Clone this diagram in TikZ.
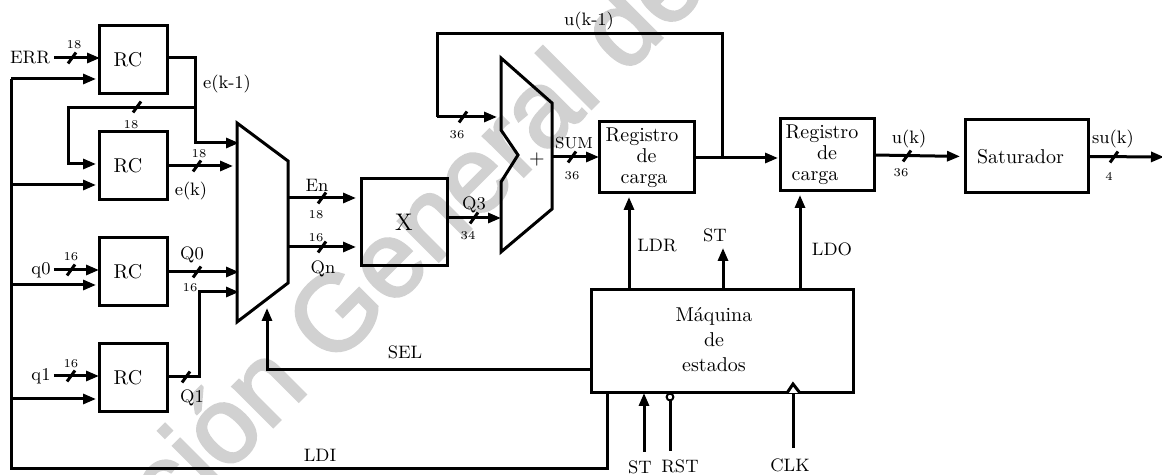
\documentclass[tikz,border=0pt]{standalone}
\usepackage{fontspec}
\newfontfamily\wmfont[FakeBold=2.5]{Liberation Sans}
\usepackage{tikz}
\usetikzlibrary{arrows.meta, positioning}

\begin{document}
\begin{tikzpicture}[
  x=0.5pt, y=-0.5pt,
  font=\normalsize,
  blk/.style={draw=black, line width=1.5pt, outer sep=0pt, inner sep=0pt, align=center},
  rcbox/.style={blk, minimum width=34pt, minimum height=34pt},
  regbox/.style={blk, minimum width=47.5pt, minimum height=35.5pt},
  wire/.style={draw=black, line width=1.5pt},
  sig/.style={wire, -{Triangle[length=6.5pt,width=5pt]}},
  gap/.style={shorten >=#1},
  lbl/.style={font=\small, inner sep=0pt},
  bw/.style={font=\fontsize{6}{7}\selectfont, inner sep=0pt},
  buscut/.pic={\draw[wire] (-4,5.5) -- (4,-5.5);}
]
\useasboundingbox (0,0) rectangle (1162,475);

% ---------------------------------------------- watermark
\node[rotate=45, anchor=base, text=black!18, inner sep=0pt, font=\wmfont\fontsize{54}{54}\selectfont] (wmark)
  at (440,260) {ción General de};

% ---------------------------------------------- the four input registers
\node[rcbox] (rca) at (133,60) {RC\hspace*{5pt}};
\node[rcbox, below=19pt of rca] (rcb) {RC\hspace*{5pt}};
\node[rcbox, below=19pt of rcb] (rcc) {RC\hspace*{5pt}};
\node[rcbox, below=19pt of rcc] (rcd) {RC\hspace*{5pt}};

\node[lbl] (lberr) at (30,58) {ERR};
\node[lbl] (lbqa) at (41,270) {q0};
\node[lbl] (lbqb) at (41,376) {q1};
\node[bw] (wa) at (74,45) {18};
\node[bw] (wb) at (71,257) {16};
\node[bw] (wc) at (71,364) {16};

\draw[sig, gap=1.5pt] ([xshift=2pt]lberr.east) -- ([xshift=2pt]lberr.east -| rca.west);
\draw[sig, gap=1.5pt] ([xshift=1.5pt]lbqa.east) -- ([xshift=1.5pt]lbqa.east -| rcc.west);
\draw[sig, gap=1.5pt] ([xshift=1.5pt]lbqb.east) -- ([xshift=1.5pt]lbqb.east -| rcd.west);
\pic at (72,58) {buscut};
\pic at (71,270) {buscut};
\pic at (71,376) {buscut};

% ---------------------------------------------- load line on the left
\coordinate (railtop) at (11,79);
\coordinate (railbot) at (11,469);
\coordinate (railb) at (11,185);
\coordinate (railc) at (11,285);
\coordinate (raild) at (11,399);
\coordinate (ldiout) at (607,393);

\draw[wire] (ldiout) |- (railbot) -- (railtop);
\draw[sig, gap=1.5pt] (railtop) -- (railtop -| rca.west);
\draw[sig, gap=1.5pt] (railb) -- (railb -| rcb.west);
\draw[sig, gap=1.5pt] (railc) -- (railc -| rcc.west);
\draw[sig, gap=1.5pt] (raild) -- (raild -| rcd.west);
\node[lbl] (lbldi) at (320,455) {LDI};

% ---------------------------------------------- the selector
\coordinate (muxtl) at (237,123);
\coordinate (muxtr) at (288,161);
\coordinate (muxbr) at (288,283);
\coordinate (muxbl) at (237,322);
\draw[wire, line join=miter] (muxtl) -- (muxtr) -- (muxbr) -- (muxbl) -- cycle;

\coordinate (ebranch) at (195,108);
\coordinate (fbin) at (68,164);
\draw[sig] (rca.east |- lberr.east) -| (ebranch) |- (239,143);
\draw[sig, gap=1.5pt] (ebranch) -| (fbin) -- (fbin -| rcb.west);
\pic at (137,107) {buscut};
\node[bw] (wd) at (131,125) {18};
\node[lbl] (lbekm) at (227,84) {e(k-1)};

\draw[sig] (rcb.east) -- (233,166);
\pic at (197,166) {buscut};
\node[bw] (we) at (199,154) {18};
\node[lbl] (lbek) at (191,191) {e(k)};

\draw[sig] (rcc.east) -- (239,272);
\pic at (197,272) {buscut};
\node[lbl] (lbqz) at (192,255) {Q0};
\node[bw] (wf) at (190,288) {16};

\coordinate (qbend) at (199,292);
\draw[sig] (rcd.east |- 0,377) -| (qbend) -- (239,292);
\pic at (186,377) {buscut};
\node[lbl] (lbqo) at (192,398) {Q1};

% ---------------------------------------------- the multiplier
\node[blk, minimum width=43pt, minimum height=43.5pt, font=\large] (mul) at (404,222.5) {X};

\draw[sig, gap=2.5pt] (muxtr |- 0,198) -- (mul.west |- 0,198);
\draw[sig, gap=2.5pt] (muxtr |- 0,247) -- (mul.west |- 0,247);
\pic at (322,198) {buscut};
\pic at (322,247) {buscut};
\node[lbl] (lben) at (317,185) {En};
\node[bw] (wg) at (316,215) {18};
\node[bw] (wh) at (316,238) {16};
\node[lbl] (lbqn) at (323,269) {Qn};

% ---------------------------------------------- the adder
\coordinate (addtl) at (501,58);
\coordinate (addtr) at (552,103);
\coordinate (addbr) at (552,209);
\coordinate (addbl) at (501,252);
\coordinate (addna) at (501,130);
\coordinate (addnb) at (518,155);
\coordinate (addnc) at (501,182);
\draw[wire, line join=miter] (addtl) -- (addtr) -- (addbr) -- (addbl) -- (addnc) -- (addnb) -- (addna) -- cycle;
\node (plus) at (537,160) {+};

\draw[sig] (mul.east |- 0,218) -- (addbl |- 0,218);
\pic at (474,218) {buscut};
\node[lbl] (lbqt) at (474,205) {Q3};
\node[bw] (wi) at (468,236) {34};

% ---------------------------------------------- the output registers
\node[regbox] (rega) at (646.5,157.5)
  {Registro\hspace*{4.5pt}\\[-1.5pt] de\hspace*{1.5pt}\\[-1.5pt] carga\hspace*{2.5pt}};
\node[regbox, minimum width=47pt, minimum height=36pt] (regb) at (827,155)
  {Registro\hspace*{5pt}\\[-1.5pt] de\hspace*{10pt}\\[-1.5pt] carga\hspace*{12pt}};
\node[blk, minimum width=61.5pt, minimum height=36.5pt] (sat) at (1026.5,156.5) {Saturador\hspace*{6pt}};

\draw[sig] (addbr |- 0,157) -- (rega.west |- 0,157);
\pic at (572,157) {buscut};
\node[font=\footnotesize, inner sep=0pt] (lbsum) at (574,143) {SUM};
\node[bw] (wj) at (572,176) {36};

\coordinate (ubranch) at (722,158);
\coordinate (ufold) at (437,34);
\draw[sig, gap=1pt] (rega.east |- ubranch) -- (regb.west |- ubranch);
\draw[wire] (ubranch) |- (ufold) -- (ufold |- 0,117);
\draw[sig, gap=2pt] (ufold |- 0,117) -- (addtl |- 0,117);
\pic at (463,117) {buscut};
\node[bw] (wk) at (457,135) {36};
\node[lbl] (lbukm) at (589,21) {u(k-1)};

\draw[sig, gap=2.5pt] (regb.east) -- (sat.west);
\pic at (907,156) {buscut};
\node[lbl] (lbuk) at (909,139) {u(k)};
\node[bw] (wl) at (901,173) {36};

\coordinate (suout) at (1164,157);
\draw[sig] (sat.east) -- (suout);
\pic at (1114,157) {buscut};
\node[lbl] (lbsuk) at (1113,139) {su(k)};
\node[bw] (wm) at (1109,176) {4};

% ---------------------------------------------- the state machine
\node[blk, minimum width=131pt, minimum height=51.5pt] (fsm) at (722,341.5) {};
\node[align=center, inner sep=0pt] (fsmtxt) at (714,340) {Máquina\\[0.5pt] de\\[0.5pt] estados};

\draw[sig, gap=2pt] (fsm.north -| 629,0) -- (rega.south -| 629,0);
\draw[sig] (fsm.north -| 723,0) -- (723,248);
\draw[sig, gap=2pt] (fsm.north -| 800,0) -- (regb.south -| 800,0);
\node[lbl] (lbldr) at (657,246) {LDR};
\node[lbl] (lbst) at (715,235) {ST};
\node[lbl] (lbldo) at (832,249) {LDO};

\coordinate (selend) at (267,308);
\draw[sig] (fsm.west |- 0,370) -| (selend);
\node[lbl] (lbsel) at (405,352) {SEL};

% ---------------------------------------------- the inputs from below
\coordinate (stin) at (644,452);
\coordinate (rstin) at (670,451);
\coordinate (clkin) at (793,448);
\draw[sig] (stin) -- (stin |- fsm.south);
\node[circle, draw=black, line width=1pt, fill=white, inner sep=0pt, minimum size=3.4pt] (rstdot) at (670,397) {};
\draw[wire] (rstin) -- (rstdot.south);
\draw[wire] (clkin) -- (clkin |- fsm.south);
\draw[wire, fill=white, line join=miter] (787,393) -- (793,384) -- (800,393);
\node[lbl] (lbstin) at (640,467) {ST};
\node[lbl] (lbrst) at (680,466) {RST};
\node[lbl] (lbclk) at (790,465) {CLK};

\end{tikzpicture}
\end{document}
